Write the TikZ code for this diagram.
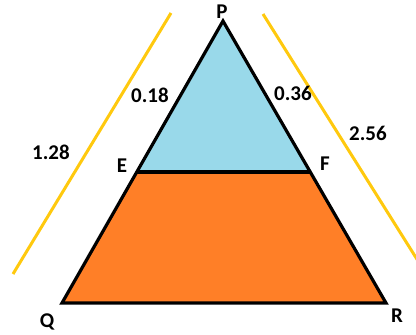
\documentclass[tikz,border=0pt]{standalone}
\usepackage{fontspec}
\setmainfont{Carlito}
\usetikzlibrary{positioning,calc}
\definecolor{paintblue}  {RGB}{153,217,234}
\definecolor{paintorange}{RGB}{255,127,39}
\definecolor{paintgold}  {RGB}{255,201,14}

\begin{document}
\begin{tikzpicture}[
  x=1pt,y=-1pt,
  side/.style  ={draw=black,line width=3.2pt,line join=miter},
  guide/.style ={draw=paintgold,line width=3pt},
  lbl/.style   ={font=\fontsize{21}{21}\selectfont\bfseries,inner sep=0pt},
]
\useasboundingbox (0,0) rectangle (416,335);
\clip (0,0) rectangle (416,335);

%% ── Vertices ─────────────────────────────────────────────────────────────────
\coordinate (P) at (223,21);
\coordinate (Q) at (62,303);
\coordinate (R) at (386,303);
\coordinate (E) at ($(P)!0.5355!(Q)$);
\coordinate (F) at ($(P)!0.5355!(R)$);

%% ── Fills ────────────────────────────────────────────────────────────────────
\fill[paintblue]   (P) -- (E) -- (F) -- cycle;
\fill[paintorange] (E) -- (Q) -- (R) -- (F) -- cycle;

%% ── Sides ────────────────────────────────────────────────────────────────────
\draw[side] (P) -- (Q) -- (R) -- cycle;
\draw[side] (E) -- (F);

%% ── Guide lines beside PQ and PR
\coordinate (gl1) at (171,13);
\coordinate (gl2) at (13,274);
\coordinate (gr1) at (263,14);
\coordinate (gr2) at (425,272);
\draw[guide] (gl1) -- (gl2);
\draw[guide] (gr1) -- (gr2);

%% ── Labels ───────────────────────────────────────────────────────────────────
\node[lbl] (lP) at (222,12)  {P};
\node[lbl] (lQ) at (47,322)  {Q};
\node[lbl] (lR) at (397,316) {R};
\node[lbl] (lE) at (122,166) {E};
\node[lbl] (lF) at (325,164) {F};
\node[lbl] (pe) at (150,95)  {0.18};
\node[lbl] (pf) at (293,93)  {0.36};
\node[lbl] (pq) at (51,152)  {1.28};
\node[lbl] (pr) at (368,133) {2.56};

\end{tikzpicture}
\end{document}
